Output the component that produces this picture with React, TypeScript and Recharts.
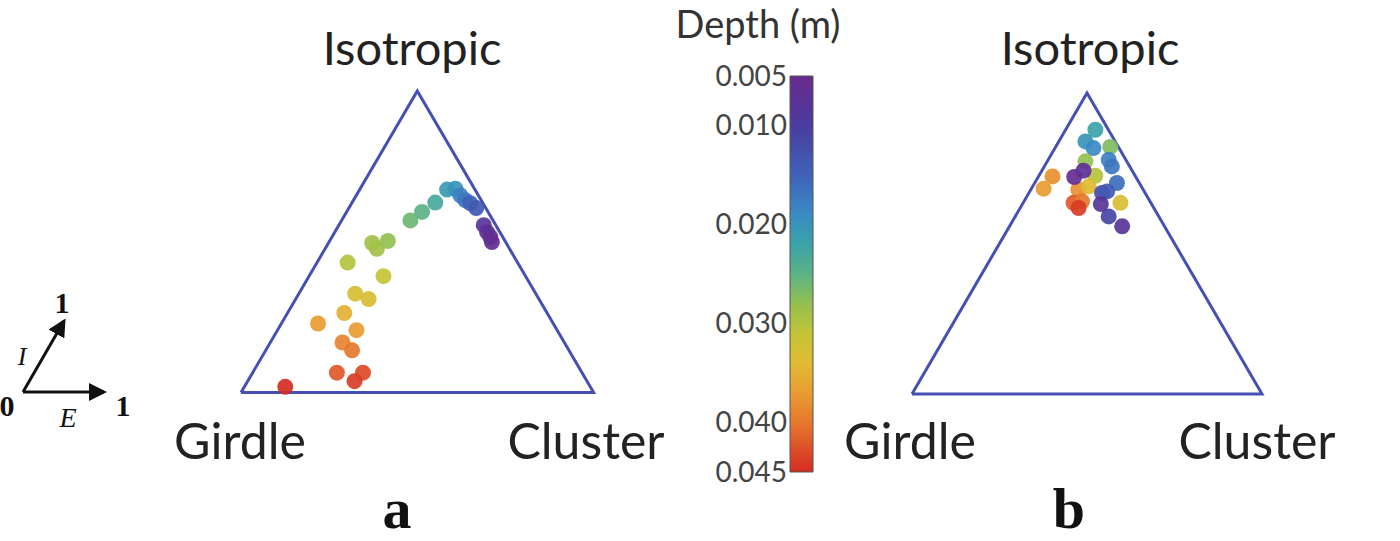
import React from 'react';
import { ScatterChart, Scatter, XAxis, YAxis, ComposedChart, ReferenceArea } from 'recharts';

// panel a: E (elongation) and I (isotropy), depth in m
const aE = [0.116, 0.239, 0.313, 0.303, 0.205, 0.245, 0.104, 0.224, 0.161, 0.160, 0.207, 0.211, 0.087, 0.124, 0.147, 0.165, 0.195, 0.214, 0.236, 0.248, 0.270, 0.295, 0.317, 0.336, 0.361, 0.411, 0.432, 0.449, 0.462];
const aI = [0.019, 0.066, 0.066, 0.038, 0.166, 0.140, 0.229, 0.207, 0.264, 0.328, 0.310, 0.386, 0.431, 0.496, 0.477, 0.503, 0.571, 0.599, 0.630, 0.673, 0.676, 0.654, 0.638, 0.628, 0.612, 0.555, 0.532, 0.516, 0.499];
const aDepth = [0.045, 0.042, 0.043, 0.044, 0.039, 0.040, 0.037, 0.037, 0.035, 0.033, 0.033, 0.031, 0.030, 0.029, 0.029, 0.028, 0.026, 0.025, 0.023, 0.021, 0.020, 0.018, 0.017, 0.015, 0.014, 0.008, 0.007, 0.007, 0.006];

// panel b
const bE = [0.040, 0.035, 0.085, 0.076, 0.110, 0.156, 0.109, 0.173, 0.193, 0.161, 0.136, 0.160, 0.235, 0.209, 0.221, 0.144, 0.166, 0.167, 0.278, 0.267, 0.322, 0.224, 0.119, 0.103];
const bI = [0.723, 0.682, 0.878, 0.839, 0.817, 0.821, 0.773, 0.778, 0.756, 0.725, 0.679, 0.690, 0.701, 0.668, 0.673, 0.635, 0.640, 0.618, 0.635, 0.590, 0.557, 0.631, 0.742, 0.721];
const bDepth = [0.038, 0.037, 0.022, 0.020, 0.019, 0.027, 0.028, 0.018, 0.017, 0.030, 0.038, 0.034, 0.016, 0.012, 0.014, 0.042, 0.040, 0.044, 0.033, 0.011, 0.008, 0.008, 0.007, 0.006];

const depthTicks = [0.005, 0.01, 0.02, 0.03, 0.04, 0.045];
const vertexLabels = ['Isotropic', 'Girdle', 'Cluster'];

// colour map, shallow (purple) to deep (red)
const cmapDepth = [0.005, 0.010, 0.015, 0.019, 0.022, 0.025, 0.028, 0.031, 0.034, 0.037, 0.040, 0.043, 0.045];
const cmapColor = ['#6a2a8e', '#4a3c9e', '#3f62b8', '#3b8bc4', '#3aa3a9', '#5cb285', '#93c050', '#c4c437', '#e0bb32', '#e99c32', '#e6782d', '#dc4a27', '#d42d22'];

const SQ = Math.sqrt(3) / 2;
const TRI = '#4650b4';
const SANS = 'Lato, "Open Sans", sans-serif';
const SERIF = '"Liberation Serif", "DejaVu Serif", serif';

function hex(c: string) {
  return [1, 3, 5].map((i) => parseInt(c.slice(i, i + 2), 16));
}

function depthColor(d: number): string {
  if (d <= cmapDepth[0]) return cmapColor[0];
  for (let i = 1; i < cmapDepth.length; i++) {
    if (d <= cmapDepth[i]) {
      const t = (d - cmapDepth[i - 1]) / (cmapDepth[i] - cmapDepth[i - 1]);
      const a = hex(cmapColor[i - 1]);
      const b = hex(cmapColor[i]);
      const m = a.map((v, k) => Math.round(v + (b[k] - v) * t));
      return `rgb(${m[0]},${m[1]},${m[2]})`;
    }
  }
  return cmapColor[cmapColor.length - 1];
}

const toPoints = (E: number[], I: number[], D: number[]) =>
  E.map((e, k) => ({ x: e + I[k] * 0.5, y: I[k] * SQ, depth: D[k] }));

const triangle = [
  { x: 0, y: 0 },
  { x: 1, y: 0 },
  { x: 0.5, y: SQ },
  { x: 0, y: 0 },
];

interface TernaryProps {
  left: number;
  base: number;
  side: number;
  apex: number;
  points: { x: number; y: number; depth: number }[];
}

const PAD = 30;

function Ternary({ left, base, side, apex, points }: TernaryProps) {
  const h = base - apex;
  return (
    <div style={{ position: 'absolute', left: left - PAD, top: apex - PAD }}>
      <ScatterChart
        width={side + PAD * 2}
        height={h + PAD * 2}
        margin={{ top: PAD, right: PAD, bottom: PAD, left: PAD }}
      >
        <XAxis type="number" dataKey="x" domain={[0, 1]} hide />
        <YAxis type="number" dataKey="y" domain={[0, SQ]} hide />
        <Scatter
          data={triangle}
          isAnimationActive={false}
          line={{ stroke: TRI, strokeWidth: 3, strokeLinejoin: 'miter' }}
          shape={() => <g />}
        />
        <Scatter
          data={points}
          isAnimationActive={false}
          shape={(p: any) => (
            <circle cx={p.cx} cy={p.cy} r={8} fill={depthColor(p.payload.depth)} fillOpacity={0.92} />
          )}
        />
      </ScatterChart>
    </div>
  );
}

function ColorBar() {
  const data = depthTicks.map((d) => ({ pos: 0.5, depth: d }));
  return (
    <div style={{ position: 'absolute', left: 690, top: 0 }}>
      <ComposedChart width={130} height={541} data={data} margin={{ top: 76, right: 7, bottom: 69, left: 0 }}>
        <defs>
          <linearGradient id="depthGrad" x1="0" y1="0" x2="0" y2="1">
            {cmapDepth.map((d, i) => (
              <stop key={d} offset={(d - 0.005) / 0.04} stopColor={cmapColor[i]} />
            ))}
          </linearGradient>
        </defs>
        <XAxis type="number" dataKey="pos" domain={[0, 1]} hide />
        <YAxis
          type="number"
          dataKey="depth"
          domain={[0.005, 0.045]}
          reversed
          ticks={depthTicks}
          interval={0}
          width={100}
          axisLine={false}
          tickLine={false}
          tickSize={0}
          tickMargin={3}
          tickFormatter={(v: number) => v.toFixed(3)}
          tick={{ fontSize: 28, fill: '#444', fontFamily: SANS }}
        />
        <ReferenceArea y1={0.005} y2={0.045} fill="url(#depthGrad)" fillOpacity={1} stroke="#555" strokeWidth={1} />
      </ComposedChart>
    </div>
  );
}

function Overlay() {
  const txt = { fontFamily: SANS, fontSize: 50, fill: '#222', textAnchor: 'middle' as const };
  return (
    <svg width={1400} height={541} style={{ position: 'absolute', left: 0, top: 0, pointerEvents: 'none' }}>
      <defs>
        <marker id="head" markerWidth="6" markerHeight="6" refX="5" refY="3" orient="auto" markerUnits="strokeWidth">
          <path d="M0,0 L6,3 L0,6 z" fill="#111" />
        </marker>
      </defs>
      <text x={412} y={65} {...txt} fontSize={47}>{vertexLabels[0]}</text>
      <text x={240} y={459} {...txt}>{vertexLabels[1]}</text>
      <text x={586} y={459} {...txt}>{vertexLabels[2]}</text>
      <text x={1090} y={65} {...txt} fontSize={47}>{vertexLabels[0]}</text>
      <text x={910} y={459} {...txt}>{vertexLabels[1]}</text>
      <text x={1257} y={459} {...txt}>{vertexLabels[2]}</text>
      <text x={758} y={38} {...txt} fontSize={38} fill="#333">Depth (m)</text>
      <text x={397} y={528} fontFamily={SERIF} fontWeight={700} fontSize={58} textAnchor="middle" fill="#111">a</text>
      <text x={1069} y={528} fontFamily={SERIF} fontWeight={700} fontSize={58} textAnchor="middle" fill="#111">b</text>

      <line x1={23} y1={392} x2={104} y2={392} stroke="#111" strokeWidth={3} markerEnd="url(#head)" />
      <line x1={23} y1={392} x2={64} y2={321} stroke="#111" strokeWidth={3} markerEnd="url(#head)" />
      <text x={7} y={416} fontFamily={SERIF} fontWeight={700} fontSize={30} textAnchor="middle" fill="#111">0</text>
      <text x={123} y={416} fontFamily={SERIF} fontWeight={700} fontSize={30} textAnchor="middle" fill="#111">1</text>
      <text x={62} y={313} fontFamily={SERIF} fontWeight={700} fontSize={30} textAnchor="middle" fill="#111">1</text>
      <text x={22} y={365} fontFamily={SERIF} fontStyle="italic" fontSize={26} textAnchor="middle" fill="#111">I</text>
      <text x={68} y={427} fontFamily={SERIF} fontStyle="italic" fontSize={28} textAnchor="middle" fill="#111">E</text>
    </svg>
  );
}

export default function App() {
  return (
    <div style={{ position: 'absolute', left: 0, top: 0, width: 1400, height: 541, background: '#fff', overflow: 'hidden' }}>
      <Ternary left={240.7} base={392.3} side={352.6} apex={90.7} points={toPoints(aE, aI, aDepth)} />
      <Ternary left={911.7} base={394.3} side={350} apex={93.3} points={toPoints(bE, bI, bDepth)} />
      <ColorBar />
      <Overlay />
    </div>
  );
}
